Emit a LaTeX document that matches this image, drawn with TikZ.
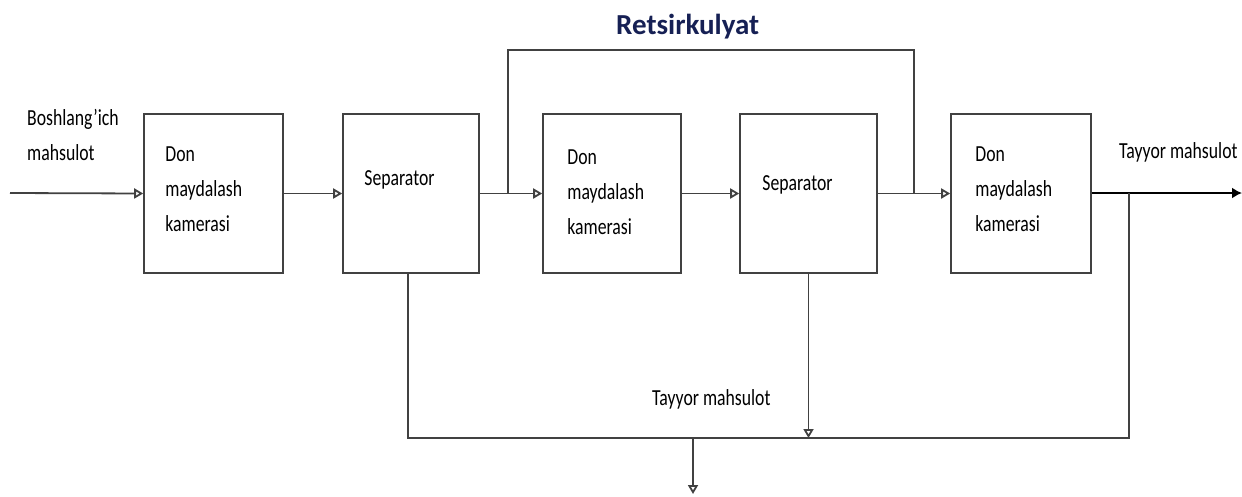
\documentclass[tikz,border=0pt]{standalone}
\usepackage{fontspec}
\setmainfont{Carlito}
\newfontfamily\torfont{Carlito}[FakeStretch=0.77]
\usepackage{xcolor}
\usetikzlibrary{positioning, arrows.meta, calc}
\definecolor{qoramovi}{RGB}{22,32,84}
\definecolor{chiziq}{RGB}{65,65,65}

\begin{document}
\begin{tikzpicture}[
		x=1pt, y=-1pt,
		% --- USLUBLAR ---
		blok/.style={
			rectangle, draw=chiziq, line width=1.6pt, fill=white,
			minimum height=159pt, inner sep=0pt
		},
		matn/.style={
			font=\torfont\fontsize{23}{35}\selectfont, align=left,
			inner sep=0pt, anchor=base west
		},
		line/.style={
			draw=chiziq, line width=1.8pt
		},
		oqim/.style={
			line, -{Triangle[length=9pt, width=10pt, fill=white]}
		},
		chiqim/.style={
			draw=black, line width=1.8pt, -{Latex[length=10pt, width=11pt]}
		}
		]
		\useasboundingbox (0,0) rectangle (1242,496);
		
		% ==========================================
		% 1. Bloklar
		% ==========================================
		\node [blok, minimum width=139pt] (kamera1) at (213.5,193.5) {};
		\node [blok, minimum width=136pt] (separator1) at (411,193.5) {};
		\node [blok, minimum width=138pt] (kamera2) at (612,193.5) {};
		\node [blok, minimum width=137pt] (separator2) at (808.5,193.5) {};
		\node [blok, minimum width=140pt] (kamera3) at (1021,193.5) {};
		
		% --- Blok ichidagi yozuvlar (oxirgi qator bo'yicha) ---
		\node [matn] (kamera1_t) at ($(kamera1.north west)+(22,118)$) {Don\\maydalash\\kamerasi};
		\node [matn] (separator1_t) at ($(separator1.north west)+(22,72)$) {Separator};
		\node [matn] (kamera2_t) at ($(kamera2.north west)+(25,121)$) {Don\\maydalash\\kamerasi};
		\node [matn] (separator2_t) at ($(separator2.north west)+(23,77)$) {Separator};
		\node [matn] (kamera3_t) at ($(kamera3.north west)+(25,118)$) {Don\\maydalash\\kamerasi};
		
		% ==========================================
		% 2. Asosiy oqim
		% ==========================================
		\coordinate (kirish) at (10,193);
		\node [matn] (boshlang) at (27,160) {Boshlang’ich\\mahsulot};
		\draw [oqim] (kirish) -- (kamera1.west);
		\draw [oqim] (kamera1.east) -- (separator1.west);
		\draw [oqim] (separator1.east) -- (kamera2.west);
		\draw [oqim] (kamera2.east) -- (separator2.west);
		\draw [oqim] (separator2.east) -- (kamera3.west);
		
		% --- Chiqish ---
		\coordinate (chiqish) at (1242,193);
		\draw [chiqim] (kamera3.east |- kirish) -- (chiqish);
		\node [matn] (tayyor1) at (1119,158) {Tayyor mahsulot};
		
		% ==========================================
		% 3. Retsirkulyat
		% ==========================================
		\coordinate (ayri1) at (508,193);
		\coordinate (ayri2) at (914,193);
		\coordinate (tepa) at (508,50);
		\draw [line] (ayri1) -- (tepa) -| (ayri2);
		\node [font=\bfseries\fontsize{29}{34}\selectfont, text=qoramovi, inner sep=0pt, anchor=base west] (retsirkulyat) at (616,34) {Retsirkulyat};
		
		% ==========================================
		% 4. Tayyor mahsulot yig'ish
		% ==========================================
		\coordinate (ayri3) at (1129,193);
		\coordinate (pastchap) at (408,438);
		\draw [line] (separator1.south -| pastchap) -- (pastchap) -- (pastchap -| ayri3) -- (ayri3);
		\draw [oqim] (separator2.south) -- (separator2.south |- pastchap);
		\coordinate (yigish) at (693,438);
		\coordinate (pastga) at (693,494);
		\draw [oqim] (yigish) -- (pastga);
		\node [matn] (tayyor2) at (652,405) {Tayyor mahsulot};
		
\end{tikzpicture}
\end{document}
